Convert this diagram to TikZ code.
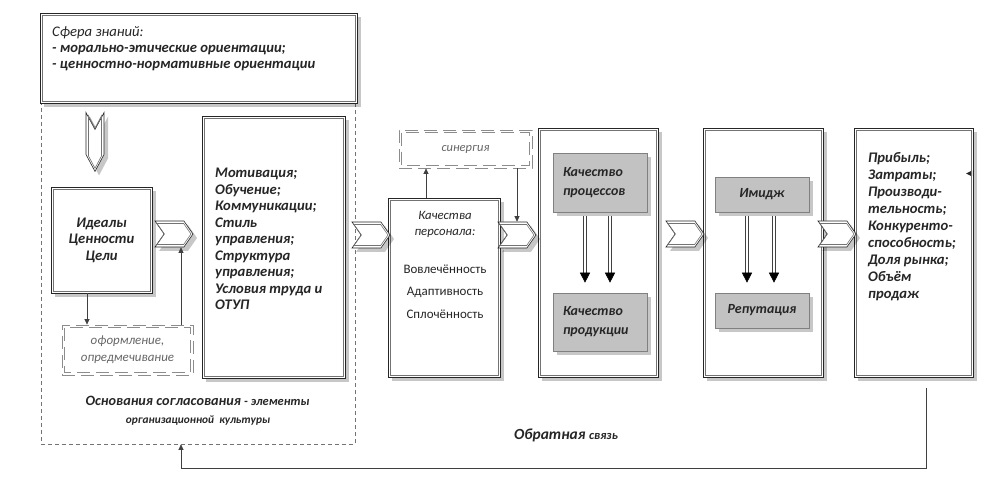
\documentclass[tikz,border=0pt]{standalone}
\usepackage{fontspec}
\setmainfont{Carlito}
\usetikzlibrary{shapes.symbols,shadows,arrows.meta,calc}
\tikzset{
  shad/.style={drop shadow={shadow xshift=4bp,shadow yshift=-4bp,opacity=0.22,fill=black}},
  dbox/.style={draw=black!85, line width=0.6bp, fill=white, inner sep=0pt, shad},
  inline/.style={draw=black!55, line width=0.6bp},
  gbox/.style={draw=black!50, line width=0.6bp, fill=black!24, inner sep=0pt, shad,
    text=black!85},
  ddash/.style={draw=black!45, line width=0.8bp, dash pattern=on 13bp off 6bp, inner sep=0pt},
  bigdash/.style={draw=black!55, line width=0.7bp, dash pattern=on 4bp off 3bp, inner sep=0pt},
  chev/.style={shape=signal, signal from=west, signal to=east, signal pointer angle=110,
    minimum width=38bp, minimum height=26bp, inner sep=0pt},
  chevdown/.style={shape=signal, signal from=north, signal to=south, signal pointer angle=56,
    minimum width=18bp, minimum height=25bp, inner sep=0pt},
  outer/.style={draw=black!85, line width=0.6bp, fill=white, shad},
  arr/.style={draw=black!75, line width=0.7bp, -{Triangle[length=5.5bp,width=5bp]}},
  shaft/.style={draw=black!75, line width=0.6bp},
  tip/.style={draw=black, line width=0.5bp, -{Triangle[length=10bp,width=10bp]}},
  sz/.style 2 args={minimum width=#1bp, minimum height=#2bp},
  big/.style={font=\fontsize{14.7}{16.5}\selectfont\bfseries\itshape, text=black!85},
  gtext/.style={font=\fontsize{14}{19}\selectfont\bfseries\itshape, text=black!85},
  small/.style={font=\fontsize{13}{15}\selectfont, text=black!85},
}
\begin{document}
\begin{tikzpicture}[x=1bp,y=-1bp]
\useasboundingbox (0,0) rectangle (994,481);
\fill[white] (0,0) rectangle (994,481);

% big dashed frame
\node[bigdash, sz={314}{344}] (osn) at (198,272) {};

% top box
\node[dbox, sz={317}{90}] (sfera) at (198.5,58) {};
\node[anchor=north west, align=left, inner sep=0pt, big] at (52,26)
  {{\mdseries Сфера знаний:}\\- морально-этические ориентации;\\- ценностно-нормативные ориентации};

% down chevron
\node[chevdown, outer] (ch0) at (95,142) {};
\node[chevdown, inline, minimum width=13bp, minimum height=28bp] at (ch0) {};

% ideals
\node[dbox, sz={101}{106}, align=center, big] (ideals) at (101.5,240) {Идеалы\\Ценности\\Цели};

% motivation
\node[dbox, sz={143}{262}] (motiv) at (273.5,247) {};
\node[anchor=west, align=left, inner sep=0pt, big] at (215,239)
  {Мотивация;\\Обучение;\\Коммуникации;\\Стиль\\управления;\\Структура\\управления;\\Условия труда и\\ОТУП};

% oformlenie
\node[ddash, sz={131}{50}, align=center, font=\fontsize{13}{17}\selectfont\itshape, text=black!60]
  (ofo) at (127.5,350) {оформление,\\опредмечивание};

% personnel
\node[dbox, sz={112}{179}] (kach) at (444,287.5) {};
\node[align=center, inner sep=0pt, font=\fontsize{12.8}{16}\selectfont\itshape, text=black!85]
  at (445,224) {Качества\\персонала:};
\node[small, inner sep=0pt] at (445,269) {Вовлечённость};
\node[small, inner sep=0pt] at (445,292) {Адаптивность};
\node[small, inner sep=0pt] at (445,314) {Сплочённость};

% synergy
\node[ddash, sz={133}{38}, font=\fontsize{12.5}{14}\selectfont\itshape, text=black!60]
  (syn) at (465.5,149) {синергия};

% quality box
\node[dbox, sz={120}{249}] (kpbox) at (598,252.5) {};
\node[gbox, sz={94}{59}, align=left, text width=74bp, gtext] (kproc) at (600,182.5) {Качество\\процессов};
\node[gbox, sz={94}{58}, align=left, text width=74bp, gtext] (kprod) at (600,322) {Качество\\продукции};

% image box
\node[dbox, sz={120}{249}] (imbox) at (763,252.5) {};
\node[gbox, sz={94}{35}, gtext] (imidzh) at (762,194.5) {Имидж};
\node[gbox, sz={94}{35}, gtext] (rep) at (762,310.5) {Репутация};

% results
\node[dbox, sz={119}{249}] (prib) at (913.5,252.5) {};
\node[anchor=west, align=left, inner sep=0pt, font=\fontsize{14.7}{17.1}\selectfont\bfseries\itshape, text=black!85]
  at (868,226.5)
  {Прибыль;\\Затраты;\\Производи-\\тельность;\\Конкуренто-\\способность;\\Доля рынка;\\Объём\\продаж};
\fill[black!85] (972,170.5) -- (966,173.5) -- (972,176.5) -- cycle;

% inner lines of double boxes
\foreach \n in {sfera,ideals,motiv,kach,kpbox,imbox,prib}{
  \draw[inline] ([shift={(2.2bp,-2.2bp)}]\n.north west) rectangle ([shift={(-2.2bp,2.2bp)}]\n.south east);
}
\foreach \n in {ofo,syn}{
  \draw[ddash] ([shift={(3bp,-3bp)}]\n.north west) rectangle ([shift={(-3bp,3bp)}]\n.south east);
}

% chevrons
\foreach \n/\p in {ch1/{174,234}, ch2/{371,235}, ch3/{517,235}, ch4/{685,234}, ch5/{837,234}}{
  \node[chev, outer] (\n) at (\p) {};
  \node[chev, inline, minimum width=34bp, minimum height=21bp] at (\n) {};
}

% connectors
\draw[arr] ([xshift=-14.5bp]ideals.south) -- ([xshift=-14.5bp]ideals.south |- ofo.north);
\draw[arr] ([xshift=7bp]ch1.south |- ofo.north) -- ([xshift=7bp]ch1.south);
\draw[arr] ([xshift=-18bp]kach.north) -- ([xshift=-18bp]kach.north |- syn.south);
\draw[arr] (syn.south -| ch3.north) -- (ch3.north);

% double arrows
\foreach \n/\m/\d in {kproc/kprod/-15, kproc/kprod/10, imidzh/rep/-15, imidzh/rep/12}{
  \draw[shaft] ([xshift=\d bp - 1.5bp,yshift=-4bp]\n.south) -- ([xshift=\d bp - 1.5bp,yshift=19bp]\m.north);
  \draw[shaft] ([xshift=\d bp + 1.5bp,yshift=-4bp]\n.south) -- ([xshift=\d bp + 1.5bp,yshift=19bp]\m.north);
  \draw[tip] ([xshift=\d bp,yshift=20bp]\m.north) -- ([xshift=\d bp,yshift=10bp]\m.north);
}

% feedback
\draw[arr] ([xshift=12.5bp,yshift=-11bp]prib.south) -- ++(0,80) -| ([xshift=-17bp]osn.south);

% labels
\node[inner sep=0pt, text=black!85] at (197.5,401)
  {\fontsize{14.3}{16}\selectfont\bfseries\itshape Основания согласования \fontsize{12.5}{14}\selectfont - элементы};
\node[inner sep=0pt, text=black!85, font=\fontsize{11.4}{13}\selectfont\bfseries\itshape] at (198,421)
  {организационной\ \ культуры};
\node[inner sep=0pt, text=black!85] at (566,435)
  {\fontsize{15.5}{17}\selectfont\bfseries\itshape Обратная \fontsize{12.5}{14}\selectfont связь};
\end{tikzpicture}
\end{document}
